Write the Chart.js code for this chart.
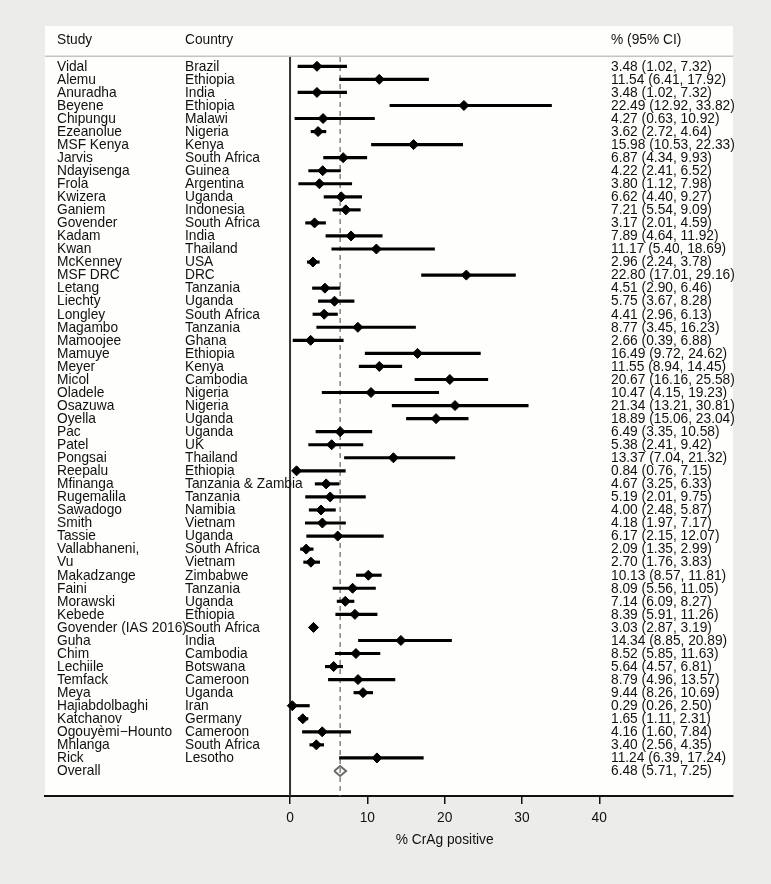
<!DOCTYPE html>
<html>
<head>
<meta charset="utf-8">
<script src="https://cdn.jsdelivr.net/npm/chart.js@4.4.1/dist/chart.umd.min.js"></script>
<style>
  html, body { margin: 0; padding: 0; background: #ececea; }
  canvas { display: block; }
</style>
</head>
<body>
<canvas id="forest" width="771" height="884"></canvas>
<script>
// Study data
const studies = ["Vidal", "Alemu", "Anuradha", "Beyene", "Chipungu", "Ezeanolue", "MSF Kenya", "Jarvis",
  "Ndayisenga", "Frola", "Kwizera", "Ganiem", "Govender", "Kadam", "Kwan", "McKenney", "MSF DRC", "Letang",
  "Liechty", "Longley", "Magambo", "Mamoojee", "Mamuye", "Meyer", "Micol", "Oladele", "Osazuwa", "Oyella",
  "Pac", "Patel", "Pongsai", "Reepalu", "Mfinanga", "Rugemalila", "Sawadogo", "Smith", "Tassie",
  "Vallabhaneni,", "Vu", "Makadzange", "Faini", "Morawski", "Kebede", "Govender (IAS 2016)", "Guha", "Chim",
  "Lechiile", "Temfack", "Meya", "Hajiabdolbaghi", "Katchanov", "Ogouyèmi\u2212Hounto", "Mhlanga", "Rick"];
const countries = ["Brazil", "Ethiopia", "India", "Ethiopia", "Malawi", "Nigeria", "Kenya", "South Africa",
  "Guinea", "Argentina", "Uganda", "Indonesia", "South Africa", "India", "Thailand", "USA", "DRC", "Tanzania",
  "Uganda", "South Africa", "Tanzania", "Ghana", "Ethiopia", "Kenya", "Cambodia", "Nigeria", "Nigeria", "Uganda",
  "Uganda", "UK", "Thailand", "Ethiopia", "Tanzania & Zambia", "Tanzania", "Namibia", "Vietnam", "Uganda",
  "South Africa", "Vietnam", "Zimbabwe", "Tanzania", "Uganda", "Ethiopia", "South Africa", "India", "Cambodia",
  "Botswana", "Cameroon", "Uganda", "Iran", "Germany", "Cameroon", "South Africa", "Lesotho"];
const estimates = [3.48, 11.54, 3.48, 22.49, 4.27, 3.62, 15.98, 6.87, 4.22, 3.80, 6.62, 7.21, 3.17, 7.89,
  11.17, 2.96, 22.80, 4.51, 5.75, 4.41, 8.77, 2.66, 16.49, 11.55, 20.67, 10.47, 21.34, 18.89, 6.49, 5.38,
  13.37, 0.84, 4.67, 5.19, 4.00, 4.18, 6.17, 2.09, 2.70, 10.13, 8.09, 7.14, 8.39, 3.03, 14.34, 8.52, 5.64,
  8.79, 9.44, 0.29, 1.65, 4.16, 3.40, 11.24];
const lower = [1.02, 6.41, 1.02, 12.92, 0.63, 2.72, 10.53, 4.34, 2.41, 1.12, 4.40, 5.54, 2.01, 4.64, 5.40,
  2.24, 17.01, 2.90, 3.67, 2.96, 3.45, 0.39, 9.72, 8.94, 16.16, 4.15, 13.21, 15.06, 3.35, 2.41, 7.04, 0.76,
  3.25, 2.01, 2.48, 1.97, 2.15, 1.35, 1.76, 8.57, 5.56, 6.09, 5.91, 2.87, 8.85, 5.85, 4.57, 4.96, 8.26, 0.26,
  1.11, 1.60, 2.56, 6.39];
const upper = [7.32, 17.92, 7.32, 33.82, 10.92, 4.64, 22.33, 9.93, 6.52, 7.98, 9.27, 9.09, 4.59, 11.92,
  18.69, 3.78, 29.16, 6.46, 8.28, 6.13, 16.23, 6.88, 24.62, 14.45, 25.58, 19.23, 30.81, 23.04, 10.58, 9.42,
  21.32, 7.15, 6.33, 9.75, 5.87, 7.17, 12.07, 2.99, 3.83, 11.81, 11.05, 8.27, 11.26, 3.19, 20.89, 11.63, 6.81,
  13.57, 10.69, 2.50, 2.31, 7.84, 4.35, 17.24];
const overall = { est: 6.48, lo: 5.71, hi: 7.25 };
const xTicks = [0, 10, 20, 30, 40];
const headers = ["Study", "Country", "% (95% CI)"];
const xTitle = "% CrAg positive";

const FONT = '13.75px "Liberation Sans", Arial, Helvetica, sans-serif';
const overallRow = studies.length;
const yMin = -3.09, yMax = 55.92;
const fmt = (e, l, h) => e.toFixed(2) + " (" + l.toFixed(2) + ", " + h.toFixed(2) + ")";

// background: grey page with white plot panel plus header rule
const panelPlugin = {
  id: "panel",
  beforeDraw(chart) {
    const { ctx, chartArea: a, scales } = chart;
    ctx.save();
    ctx.fillStyle = "#ececea";
    ctx.fillRect(0, 0, chart.width, chart.height);
    ctx.fillStyle = "#fefefd";
    ctx.fillRect(a.left, a.top, a.right - a.left, a.bottom - a.top);
    const yh = scales.y.getPixelForValue(-0.78);
    ctx.strokeStyle = "#c4c4c4";
    ctx.lineWidth = 1.5;
    ctx.beginPath();
    ctx.moveTo(a.left, yh);
    ctx.lineTo(a.right, yh);
    ctx.stroke();
    ctx.restore();
  }
};

// text columns: study, country, estimate (95% CI)
const textPlugin = {
  id: "columns",
  afterDraw(chart) {
    const { ctx, chartArea: a, scales } = chart;
    const cols = [57, 185, 611];
    ctx.save();
    ctx.font = FONT;
    ctx.fillStyle = "#111";
    ctx.textBaseline = "middle";
    ctx.textAlign = "left";
    const yHead = scales.y.getPixelForValue(-2);
    headers.forEach((h, k) => ctx.fillText(h, cols[k], yHead));
    studies.forEach((s, i) => {
      const y = scales.y.getPixelForValue(i) + 0.5;
      ctx.fillText(s, cols[0], y);
      ctx.fillText(countries[i], cols[1], y);
      ctx.fillText(fmt(estimates[i], lower[i], upper[i]), cols[2], y);
    });
    const yo = scales.y.getPixelForValue(overallRow) + 0.5;
    ctx.fillText("Overall", cols[0], yo);
    ctx.fillText(fmt(overall.est, overall.lo, overall.hi), cols[2], yo);
    ctx.textAlign = "center";
    ctx.fillText(xTitle, scales.x.getPixelForValue(20), a.bottom + 44);
    ctx.restore();
  }
};

new Chart(document.getElementById("forest"), {
  type: "scatter",
  data: {
    datasets: [
      {
        label: "estimate",
        type: "scatter",
        data: studies.map((s, i) => ({ x: estimates[i], y: i })),
        pointStyle: "rectRot",
        pointRadius: 5,
        backgroundColor: "#000",
        borderColor: "#000",
        borderWidth: 1,
        order: 0
      },
      {
        label: "overall",
        type: "line",
        data: [
          { x: overall.lo, y: overallRow },
          { x: overall.est, y: overallRow - 0.38 },
          { x: overall.hi, y: overallRow },
          { x: overall.est, y: overallRow + 0.38 },
          { x: overall.lo, y: overallRow }
        ],
        borderColor: "#6a6a6a",
        borderWidth: 2,
        pointRadius: 0,
        fill: false,
        tension: 0,
        order: 1
      },
      {
        label: "95% CI",
        type: "bar",
        indexAxis: "y",
        data: studies.map((s, i) => ({ x: [lower[i], upper[i]], y: i })),
        backgroundColor: "#000",
        barThickness: 2.5,
        order: 2
      },
      {
        label: "overall line",
        type: "line",
        indexAxis: "y",
        data: [{ x: overall.est, y: -0.72 }, { x: overall.est, y: yMax }],
        borderColor: "#7a7a7a",
        borderWidth: 1.4,
        borderDash: [5, 4],
        pointRadius: 0,
        order: 3
      },
      {
        label: "null line",
        type: "line",
        indexAxis: "y",
        data: [{ x: 0, y: -0.72 }, { x: 0, y: yMax }],
        borderColor: "#333",
        borderWidth: 2,
        pointRadius: 0,
        order: 4
      }
    ]
  },
  options: {
    responsive: false,
    animation: false,
    events: [],
    layout: { padding: { left: 45, right: 38, top: 26, bottom: 38 } },
    plugins: { legend: { display: false }, tooltip: { enabled: false } },
    scales: {
      x: {
        type: "linear",
        min: -31.7,
        max: 57.3,
        offset: false,
        afterBuildTicks: (s) => { s.ticks = xTicks.map(v => ({ value: v })); },
        afterFit: (s) => { s.height = 50; },
        border: { display: true, color: "#111", width: 2 },
        grid: { display: true, drawOnChartArea: false, drawTicks: true, tickLength: 8, color: "#111", lineWidth: 1.5, offset: false },
        ticks: { color: "#111", font: { family: '"Liberation Sans", Arial, sans-serif', size: 13.75 }, padding: 6, autoSkip: false, maxRotation: 0 }
      },
      y: {
        type: "linear",
        min: yMin,
        max: yMax,
        reverse: true,
        display: false,
        offset: false,
        grid: { offset: false }
      }
    }
  },
  plugins: [panelPlugin, textPlugin]
});
</script>
</body>
</html>
